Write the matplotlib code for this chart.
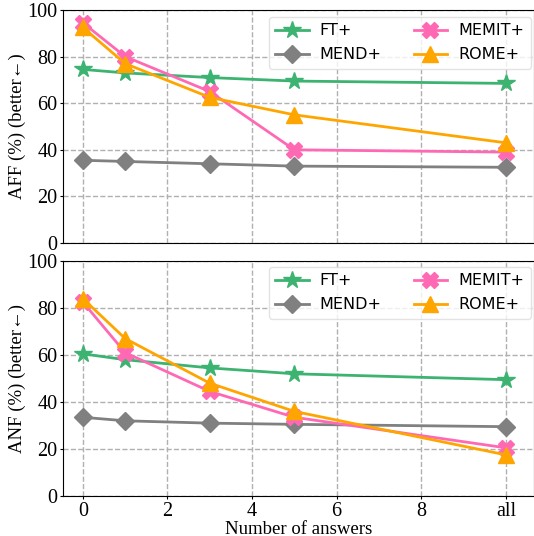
import matplotlib
matplotlib.use('Agg')
import matplotlib.pyplot as plt

x = [0, 1, 3, 5, 10]
x_ticks = [0, 2, 4, 6, 8, 10]
x_tick_labels = ['0', '2', '4', '6', '8', 'all']

methods = ['FT+', 'MEND+', 'MEMIT+', 'ROME+']
colors = ['#3cb371', 'gray', '#ff69b4', 'orange']
markers = ['*', 'D', 'X', '^']
marker_sizes = [13, 9, 11, 11]

aff = {
    'FT+': [74.5, 73, 71, 69.5, 68.5],
    'MEND+': [35.5, 35, 34, 33, 32.5],
    'MEMIT+': [94.5, 80, 65, 40, 39],
    'ROME+': [92.5, 77, 62.5, 55, 43],
}
anf = {
    'FT+': [60.5, 58, 54.5, 52, 49.5],
    'MEND+': [33.5, 32, 31, 30.5, 29.5],
    'MEMIT+': [82.5, 61, 44.5, 33.5, 20.5],
    'ROME+': [84, 67, 48, 36, 17.5],
}

serif = ['Liberation Serif', 'DejaVu Sans']
W, H = 534, 536
fig = plt.figure(figsize=(W / 100, H / 100), dpi=100)

left = 63 / W
right_px = 63 + 11.13 * 42.3
width = (right_px - 63) / W
ax1 = fig.add_axes([left, 1 - 243 / H, width, (243 - 10) / H])
ax2 = fig.add_axes([left, 1 - 496 / H, width, (496 - 261) / H])

for ax, data, ylabel, leg_top in [(ax1, aff, 'AFF (%) (better\u2190)', 0.97),
                                  (ax2, anf, 'ANF (%) (better\u2190)', 0.974)]:
    for m, c, mk, ms in zip(methods, colors, markers, marker_sizes):
        ax.plot(x, data[m], color=c, marker=mk, markersize=ms, linewidth=2, label=m)
    ax.set_xlim(-0.47, 10.66)
    ax.set_ylim(0, 100)
    ax.set_yticks([0, 20, 40, 60, 80, 100])
    ax.set_xticks(x_ticks)
    ax.grid(True, linestyle='--', color='#b0b0b0', linewidth=1)
    ax.set_axisbelow(True)
    ax.set_ylabel(ylabel, fontsize=13.5, family=serif, labelpad=1)
    for lab in ax.get_yticklabels():
        lab.set_family(serif)
        lab.set_fontsize(14.5)
    ax.tick_params(length=2, pad=2)
    leg = ax.legend(ncol=2, loc='upper right', fontsize=11.5, framealpha=0.8,
                    columnspacing=2.0, handlelength=2.1, handletextpad=0.7,
                    borderaxespad=0, labelspacing=0.55,
                    bbox_to_anchor=(0.9936, leg_top))
    leg.get_frame().set_edgecolor('#dddddd')

ax1.tick_params(axis='x', length=0)
ax1.set_xticklabels([])
ax2.set_xticklabels(x_tick_labels, family=serif, fontsize=14.5)
ax2.set_xlabel('Number of answers', fontsize=13.5, family=serif, labelpad=0)

fig.savefig('out.png', dpi=100)
